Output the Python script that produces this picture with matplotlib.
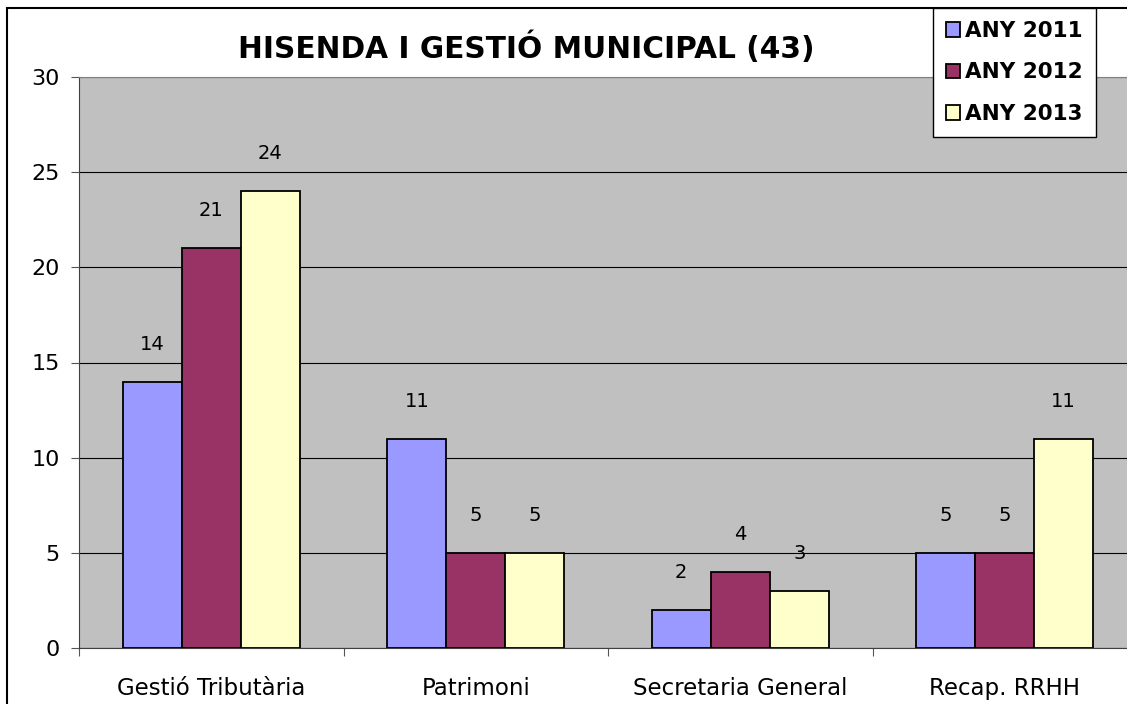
import numpy as np
import matplotlib.pyplot as plt
from matplotlib.patches import Rectangle

#==========================================================================
# Data
#==========================================================================
categories = ['Gestió Tributària', 'Patrimoni', 'Secretaria General', 'Recap. RRHH']
series_names = ['ANY 2011', 'ANY 2012', 'ANY 2013']
any_2011 = [14, 11, 2, 5]
any_2012 = [21, 5, 4, 5]
any_2013 = [24, 5, 3, 11]
colors = ['#9999FF', '#993366', '#FFFFCC']

#==========================================================================
# Plot
#==========================================================================
plt.rcParams['font.family'] = ['DejaVu Sans']
fig = plt.figure(figsize=(11.27, 7.04), dpi=100)
fig.patch.set_facecolor('white')

# plot area (runs past the right edge like the original)
W, H = 1127, 704
ax = fig.add_axes([79 / W, (H - 648) / H, (1137 - 79) / W, (648 - 77) / H])
ax.set_facecolor('#C0C0C0')

x = np.arange(len(categories))
width = 0.223
for i, (vals, c) in enumerate(zip([any_2011, any_2012, any_2013], colors)):
    pos = x + (i - 1) * width
    ax.bar(pos, vals, width, color=c, edgecolor='black', linewidth=1.3,
           label=series_names[i], zorder=3)
    for p, v in zip(pos, vals):
        ax.annotate(str(v), (p, v), xytext=(0, 27), textcoords='offset points',
                    ha='center', va='center', fontsize=14)

ax.set_xlim(-0.5, len(categories) - 0.5)
ax.set_ylim(0, 30)
ax.set_yticks(range(0, 31, 5))
ax.yaxis.grid(True, color='black', linewidth=0.8, zorder=0)
ax.set_axisbelow(True)
ax.set_xticks(np.arange(-0.5, len(categories), 1.0))
ax.set_xticklabels([])
ax.set_xticks(x, minor=True)
ax.set_xticklabels(categories, minor=True, fontsize=16.5)
ax.tick_params(axis='x', which='minor', length=0, pad=21)
ax.tick_params(axis='x', which='major', length=6, color='#555555')
ax.tick_params(axis='y', length=6, labelsize=16, pad=8, color='#555555')
for s in ['left', 'bottom']:
    ax.spines[s].set_color('#404040')
ax.spines['top'].set_color('#808080')
ax.spines['right'].set_visible(False)

fig.text(526 / W, 1 - 48 / H, 'HISENDA I GESTIÓ MUNICIPAL (43)',
         ha='center', va='center', fontsize=21.3, fontweight='bold')

# legend box at top right
leg = fig.legend(loc='upper left', bbox_to_anchor=(933 / W, 1 - 8 / H),
                 prop={'weight': 'bold', 'size': 15.5}, frameon=True,
                 fancybox=False, edgecolor='black', framealpha=1,
                 borderpad=0.6, handlelength=0.65, handleheight=0.65,
                 handletextpad=0.25, labelspacing=1.0, borderaxespad=0)
leg.get_frame().set_linewidth(1.0)
leg.set_zorder(10)

# outer chart frame
fig.patches.append(Rectangle((7 / W, -0.1), 1.2, 1 - 8 / H + 0.1,
                             transform=fig.transFigure, fill=False,
                             edgecolor='black', linewidth=1.5))

fig.savefig('out.png', dpi=100)
